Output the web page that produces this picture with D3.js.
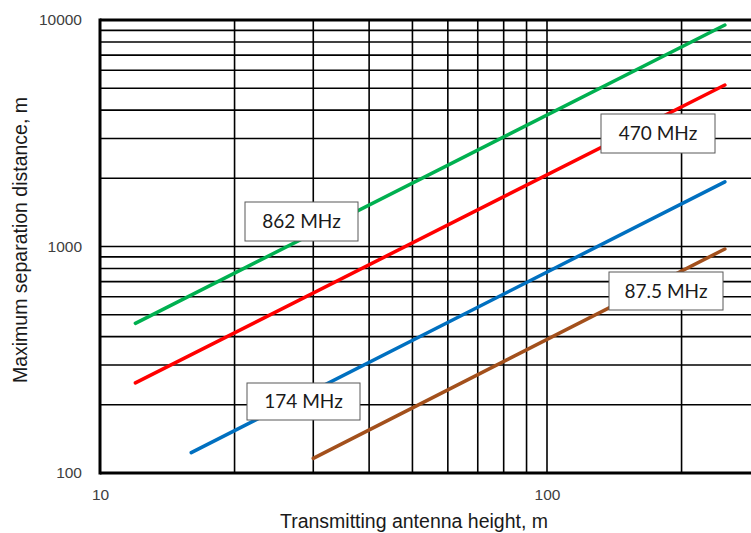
<!DOCTYPE html>
<html><head><meta charset="utf-8">
<script src="https://cdn.jsdelivr.net/npm/d3@7/dist/d3.min.js"></script>
<style>body{margin:0;background:#fff;overflow:hidden}</style>
</head><body>
<svg id="c" width="751" height="533"></svg>
<script>
// Data: transmitting antenna height (m) vs max separation distance (m)
const seriesNames = ["862 MHz", "470 MHz", "174 MHz", "87.5 MHz"];
const heights862 = [12, 250];   const dist862 = [458, 9500];
const heights470 = [12, 250];   const dist470 = [250, 5165];
const heights174 = [16, 250];   const dist174 = [123, 1930];
const heights875 = [30, 250];   const dist875 = [116, 975];
const xTickLabels = [10, 100];
const yTickLabels = [100, 1000, 10000];
const xGrid = [20, 30, 40, 50, 60, 70, 80, 90, 100, 200];
const yGrid = [200, 300, 400, 500, 600, 700, 800, 900, 1000, 2000, 3000, 4000, 5000, 6000, 7000, 8000, 9000];

const colors = ["#00b050", "#ff0000", "#0070c0", "#a3501c"];
const series = [
  {name: seriesNames[0], h: heights862, d: dist862, color: colors[0], box: [245, 202, 113, 39]},
  {name: seriesNames[1], h: heights470, d: dist470, color: colors[1], box: [601, 114, 114, 39]},
  {name: seriesNames[2], h: heights174, d: dist174, color: colors[2], box: [247, 383, 113, 37]},
  {name: seriesNames[3], h: heights875, d: dist875, color: colors[3], box: [609, 272, 114, 38]}
];

const svg = d3.select("#c");
const L = 100, T = 20, B = 473;
const x = d3.scaleLog().domain([10, 300]).range([L, L + 447 * Math.log10(30)]);
const y = d3.scaleLog().domain([100, 10000]).range([B, T]);
const R = 760;

// grid
const g = svg.append("g");
g.selectAll("line.h").data(yGrid).join("line")
  .attr("x1", L).attr("x2", R).attr("y1", d => y(d)).attr("y2", d => y(d))
  .attr("stroke", "#000").attr("stroke-width", 1.6);
g.selectAll("line.v").data(xGrid).join("line")
  .attr("y1", T).attr("y2", B).attr("x1", d => x(d)).attr("x2", d => x(d))
  .attr("stroke", "#000").attr("stroke-width", 1.6);

// frame
svg.append("line").attr("x1", L).attr("x2", R).attr("y1", T).attr("y2", T).attr("stroke", "#000").attr("stroke-width", 3);
svg.append("line").attr("x1", L).attr("x2", R).attr("y1", B).attr("y2", B).attr("stroke", "#000").attr("stroke-width", 3);
svg.append("line").attr("x1", L).attr("x2", L).attr("y1", T - 1.5).attr("y2", B + 1.5).attr("stroke", "#000").attr("stroke-width", 3);

// axes tick labels
const xAxis = d3.axisBottom(x).tickValues(xTickLabels).tickFormat(d3.format("d")).tickSize(0).tickPadding(16);
const xa = svg.append("g").attr("transform", `translate(0,${B})`).call(xAxis);
const yAxis = d3.axisLeft(y).tickValues(yTickLabels).tickFormat(d3.format("d")).tickSize(0).tickPadding(18);
const ya = svg.append("g").attr("transform", `translate(${L},0)`).call(yAxis);
[xa, ya].forEach(a => {
  a.select(".domain").remove();
  a.selectAll("text").attr("font-family", "Liberation Sans, Arial, sans-serif").attr("font-size", 15.5).attr("fill", "#404040");
});

// lines
const line = d3.line().x(p => x(p[0])).y(p => y(p[1]));
series.forEach(s => {
  svg.append("path").datum(s.h.map((h, i) => [h, s.d[i]]))
    .attr("d", line).attr("fill", "none").attr("stroke", s.color)
    .attr("stroke-width", 3.5).attr("stroke-linecap", "round");
});

// label boxes
series.forEach(s => {
  const [bx, by, bw, bh] = s.box;
  svg.append("rect").attr("x", bx).attr("y", by).attr("width", bw).attr("height", bh)
    .attr("fill", "#fff").attr("stroke", "#595959").attr("stroke-width", 1);
  svg.append("text").attr("x", bx + bw / 2).attr("y", by + bh / 2 + 6.5)
    .attr("text-anchor", "middle").attr("font-family", "Lato, 'Open Sans', sans-serif")
    .attr("font-size", 19).attr("fill", "#1a1a1a").text(s.name);
});

// titles
svg.append("text").attr("x", 414).attr("y", 528).attr("text-anchor", "middle")
  .attr("font-family", "Liberation Sans, Arial, sans-serif").attr("font-size", 19.5).attr("fill", "#1a1a1a")
  .text("Transmitting antenna height, m");
svg.append("text").attr("transform", "translate(27,240) rotate(-90)").attr("text-anchor", "middle")
  .attr("font-family", "Liberation Sans, Arial, sans-serif").attr("font-size", 19.5).attr("fill", "#1a1a1a")
  .text("Maximum separation distance, m");
</script>
</body></html>
